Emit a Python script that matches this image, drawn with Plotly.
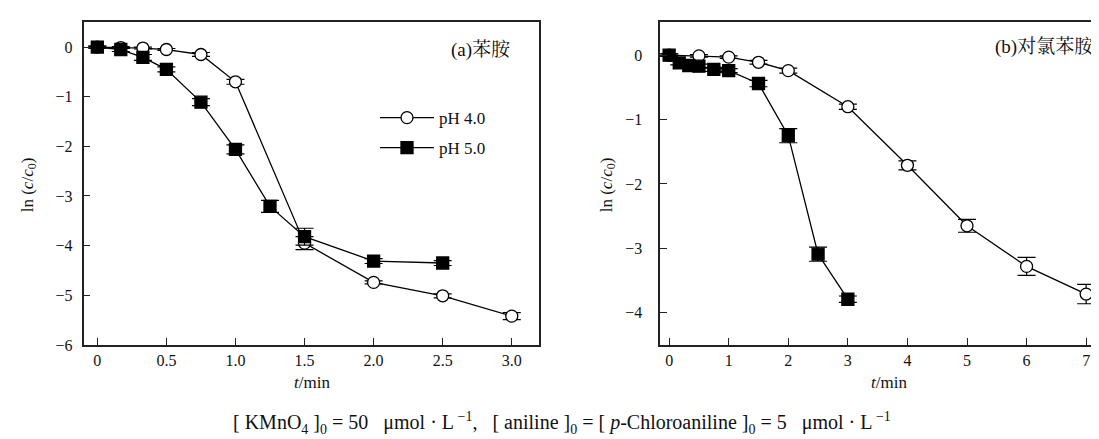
import plotly.graph_objects as go

# ---- data (a) aniline ----
a_t_ph4 = [0, 0.17, 0.33, 0.5, 0.75, 1.0, 1.5, 2.0, 2.5, 3.0]
a_y_ph4 = [0, -0.01, -0.02, -0.05, -0.15, -0.70, -3.95, -4.74, -5.01, -5.42]
a_e_ph4 = [0.02, 0.02, 0.02, 0.02, 0.04, 0.05, 0.13, 0.03, 0.04, 0.07]
a_t_ph5 = [0, 0.17, 0.33, 0.5, 0.75, 1.0, 1.25, 1.5, 2.0, 2.5]
a_y_ph5 = [0, -0.05, -0.21, -0.45, -1.11, -2.06, -3.21, -3.82, -4.31, -4.35]
a_e_ph5 = [0.02, 0.04, 0.06, 0.05, 0.07, 0.09, 0.12, 0.17, 0.05, 0.05]

# ---- data (b) p-chloroaniline ----
b_t_ph4 = [0, 0.5, 1, 1.5, 2, 3, 4, 5, 6, 7]
b_y_ph4 = [0, -0.01, -0.03, -0.11, -0.24, -0.80, -1.71, -2.65, -3.28, -3.71]
b_e_ph4 = [0.02, 0.02, 0.02, 0.03, 0.04, 0.04, 0.07, 0.10, 0.14, 0.15]
b_t_ph5 = [0, 0.17, 0.33, 0.5, 0.75, 1.0, 1.5, 2.0, 2.5, 3.0]
b_y_ph5 = [0, -0.12, -0.16, -0.17, -0.22, -0.24, -0.44, -1.25, -3.09, -3.79]
b_e_ph5 = [0.02, 0.03, 0.03, 0.03, 0.03, 0.03, 0.05, 0.11, 0.11, 0.05]

# ---- tick labels ----
a_xticks = [0, 0.5, 1.0, 1.5, 2.0, 2.5, 3.0]
a_xtext = ["0", "0.5", "1.0", "1.5", "2.0", "2.5", "3.0"]
a_yticks = [0, -1, -2, -3, -4, -5, -6]
a_ytext = ["0", "−1", "−2", "−3", "−4", "−5", "−6"]
b_xticks = [0, 1, 2, 3, 4, 5, 6, 7]
b_xtext = ["0", "1", "2", "3", "4", "5", "6", "7"]
b_yticks = [0, -1, -2, -3, -4]
b_ytext = ["0", "−1", "−2", "−3", "−4"]

series_names = ["pH 4.0", "pH 5.0"]

FONT = "Liberation Serif, Times New Roman, Noto Serif CJK SC, Noto Sans CJK SC, serif"
W, H = 1099, 439
NB = "\u00a0"

def px_x(p):
    return p / W

def px_y(p):
    return 1 - p / H

fig = go.Figure()

def add_series(t, y, e, name, xa, ya, filled, show):
    fig.add_trace(go.Scatter(
        x=t, y=y, name=name, xaxis=xa, yaxis=ya,
        mode="lines+markers",
        line=dict(color="black", width=1.3),
        marker=dict(
            symbol="square" if filled else "circle",
            size=12,
            color="black" if filled else "white",
            line=dict(color="black", width=1.3),
        ),
        error_y=dict(type="data", array=e, visible=True, color="black",
                     thickness=1.2, width=9),
        showlegend=show,
        legendgroup=name,
    ))

add_series(a_t_ph4, a_y_ph4, a_e_ph4, series_names[0], "x", "y", False, True)
add_series(a_t_ph5, a_y_ph5, a_e_ph5, series_names[1], "x", "y", True, True)
add_series(b_t_ph4, b_y_ph4, b_e_ph4, series_names[0], "x2", "y2", False, False)
add_series(b_t_ph5, b_y_ph5, b_e_ph5, series_names[1], "x2", "y2", True, False)

ydom = [px_y(344), px_y(14)]
axis_common = dict(
    showline=True, linecolor="#222", linewidth=1.5,
    ticks="inside", ticklen=7, tickwidth=1.3, tickcolor="#222",
    showgrid=False, zeroline=False,
    tickfont=dict(family=FONT, size=16, color="#111"),
)

fig.update_layout(
    width=W, height=H,
    margin=dict(l=0, r=0, t=0, b=0),
    paper_bgcolor="white", plot_bgcolor="white",
    font=dict(family=FONT, size=16, color="#111"),
    xaxis=dict(domain=[px_x(75.5), px_x(531.4)], range=[-0.1, 3.2],
               tickvals=a_xticks, ticktext=a_xtext, mirror=True,
               anchor="y", **axis_common),
    yaxis=dict(domain=ydom, range=[-6, 0.51],
               tickvals=a_yticks, ticktext=a_ytext, mirror=True,
               anchor="x", ticklabelstandoff=6, **axis_common),
    xaxis2=dict(domain=[px_x(652.2), 1.0], range=[-0.15, 7.35],
                tickvals=b_xticks, ticktext=b_xtext, mirror=True,
                anchor="y2", **axis_common),
    yaxis2=dict(domain=ydom, range=[-4.5, 0.52],
                tickvals=b_yticks, ticktext=b_ytext, mirror=False,
                anchor="x2", ticklabelstandoff=13, **axis_common),
    legend=dict(
        x=px_x(367), y=px_y(94), xanchor="left", yanchor="top",
        bgcolor="rgba(0,0,0,0)", borderwidth=0,
        font=dict(family=FONT, size=17, color="#111"),
        traceorder="grouped", tracegroupgap=5, itemwidth=54,
    ),
)

caption = (f"[{NB}KMnO<sub>4</sub>{NB}]<sub>0</sub> = 50{NB}{NB}{NB}μmol{NB}·{NB}L<sup>{NB}−1</sup>,{NB}{NB}{NB}"
           f"[{NB}aniline{NB}]<sub>0</sub> = [{NB}<i>p</i>-Chloroaniline{NB}]<sub>0</sub> = "
           f"5{NB}{NB}{NB}μmol{NB}·{NB}L<sup>{NB}−1</sup>")

annotations = [
    dict(text="(a)苯胺", x=px_x(505), y=px_y(43), xanchor="right", yanchor="middle",
         font=dict(size=19)),
    dict(text="(b)对氯苯胺", x=px_x(1088), y=px_y(40), xanchor="right", yanchor="middle",
         font=dict(size=19)),
    dict(text="<i>t</i>/min", x=px_x(304), y=px_y(382), xanchor="center", yanchor="middle",
         font=dict(size=17)),
    dict(text="<i>t</i>/min", x=px_x(881), y=px_y(382), xanchor="center", yanchor="middle",
         font=dict(size=17)),
    dict(text="ln (<i>c</i>/<i>c</i><sub>0</sub>)", x=px_x(21), y=px_y(181), textangle=-90,
         xanchor="center", yanchor="middle", font=dict(size=17)),
    dict(text="ln (<i>c</i>/<i>c</i><sub>0</sub>)", x=px_x(600), y=px_y(181), textangle=-90,
         xanchor="center", yanchor="middle", font=dict(size=17)),
    dict(text=caption, x=px_x(554), y=px_y(424), xanchor="center", yanchor="middle",
         font=dict(size=20)),
]
for a in annotations:
    a.update(xref="paper", yref="paper", showarrow=False)
fig.update_layout(annotations=annotations)

fig.write_html("out.html")
